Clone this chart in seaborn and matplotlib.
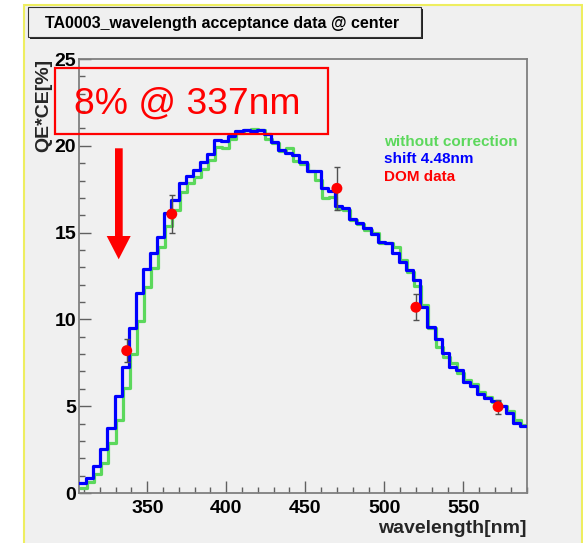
import numpy as np
import pandas as pd
import matplotlib
matplotlib.use("Agg")
import matplotlib.pyplot as plt
import seaborn as sns
from matplotlib.patches import Rectangle, Polygon
from matplotlib.ticker import MultipleLocator

# ---------------- data ----------------
wl_start = 306.8      # first bin edge [nm]
bin_width = 4.5       # bin width [nm]
green_offset = 0.6    # small drawing offset of the uncorrected histogram [nm]

without_correction = [
    0.27, 0.65, 1.08, 1.71, 2.86, 4.20, 6.03, 8.00, 9.93, 11.88,
    12.98, 14.15, 15.37, 16.30, 17.36, 17.84, 18.22, 18.65, 19.20, 19.95,
    19.90, 20.40, 20.75, 20.90, 20.97, 20.90, 20.40, 20.15, 19.70, 19.86,
    19.10, 18.95, 18.55, 18.03, 17.00, 17.07, 16.34, 16.30, 15.73, 15.50,
    15.15, 14.96, 14.42, 14.38, 14.19, 13.40, 12.75, 11.90, 10.83, 9.50,
    8.40, 7.85, 7.50, 6.93, 6.50, 6.30, 5.84, 5.55, 5.26, 5.02,
    4.72, 4.20, 3.92]

shift_448nm = [
    0.58, 0.85, 1.55, 2.52, 3.77, 5.60, 7.26, 9.52, 11.50, 12.89,
    13.80, 14.76, 16.15, 16.88, 17.86, 18.24, 18.60, 19.05, 19.50, 20.35,
    20.30, 20.58, 20.85, 20.89, 20.88, 20.90, 20.70, 20.20, 19.78, 19.60,
    19.45, 19.08, 18.55, 18.55, 17.59, 17.41, 16.53, 16.43, 15.78, 15.57,
    15.25, 14.90, 14.45, 14.38, 13.85, 13.32, 12.85, 12.27, 10.72, 9.58,
    8.88, 8.05, 7.28, 7.07, 6.40, 6.15, 5.70, 5.45, 5.32, 5.01,
    4.59, 4.01, 3.84]

dom_wavelength = [337, 365.5, 470, 520, 572]
dom_value = [8.2, 16.07, 17.55, 10.7, 4.97]
dom_error = [0.65, 1.1, 1.25, 0.74, 0.4]

x_ticks = [350, 400, 450, 500, 550]
y_ticks = [0, 5, 10, 15, 20, 25]

title_text = "TA0003_wavelength acceptance data @ center"
box_text = "8% @ 337nm"
legend_texts = ["without correction", "shift 4.48nm", "DOM data"]

GREEN = "#5cd85c"
BLUE = "#0000ff"
RED = "#ff0000"
BG = "#f0f0f0"

# ---------------- figure ----------------
W, H = 583, 543
sns.set_theme(style="ticks")
plt.rcParams["font.family"] = ["Liberation Sans", "DejaVu Sans"]

fig = plt.figure(figsize=(W / 100, H / 100), dpi=100, facecolor="white")


def fx(px):
    return px / W


def fy(py):
    return 1 - py / H


# ROOT-like canvas pad
fig.patches.append(Rectangle((fx(23.5), fy(560)), fx(582) - fx(23.5), fy(5) - fy(560),
                             transform=fig.transFigure, facecolor=BG,
                             edgecolor="#eeee60", linewidth=1.5, zorder=-2))

ax = fig.add_axes([fx(79), fy(493), fx(527) - fx(79), fy(59) - fy(493)])
ax.set_facecolor(BG)

n = len(shift_448nm)
edges_g = wl_start + green_offset + bin_width * np.arange(n + 1)
edges_b = wl_start + bin_width * np.arange(n + 1)
df_g = pd.DataFrame({"wl": edges_g, "val": list(without_correction) + [without_correction[-1]]})
df_b = pd.DataFrame({"wl": edges_b, "val": list(shift_448nm) + [shift_448nm[-1]]})

sns.lineplot(data=df_g, x="wl", y="val", estimator=None, drawstyle="steps-post",
             color=GREEN, linewidth=2.3, ax=ax, zorder=2)
sns.lineplot(data=df_b, x="wl", y="val", estimator=None, drawstyle="steps-post",
             color=BLUE, linewidth=2.3, ax=ax, zorder=3)

ax.errorbar(dom_wavelength, dom_value, yerr=dom_error, fmt="none",
            ecolor="#505050", elinewidth=1.0, capsize=2.5, capthick=1.0, zorder=4)
sns.scatterplot(x=dom_wavelength, y=dom_value, color=RED, s=62, edgecolor="none",
                ax=ax, zorder=5)

ax.set_xlim(wl_start, wl_start + bin_width * n)
ax.set_ylim(0, 25)
ax.set_xticks(x_ticks)
ax.set_yticks(y_ticks)
ax.set_xticklabels([str(v) for v in x_ticks], fontweight="bold", fontsize=14)
ax.set_yticklabels([str(v) for v in y_ticks], fontweight="bold", fontsize=14)
ax.xaxis.set_minor_locator(MultipleLocator(10))
ax.yaxis.set_minor_locator(MultipleLocator(1))
ax.tick_params(which="major", direction="in", length=8.6, width=1.0, color="#606060",
               top=False, right=False, labelcolor="black")
ax.tick_params(which="minor", direction="in", length=4.3, width=1.0, color="#606060",
               top=False, right=False)
ax.tick_params(axis="x", pad=5)
ax.tick_params(axis="y", pad=2)
for s in ax.spines.values():
    s.set_color("#808080")
    s.set_linewidth(1.3)

ax.set_xlabel("wavelength[nm]", fontsize=14, fontweight="bold", loc="right", labelpad=2)
ax.set_ylabel("QE*CE[%]", fontsize=14, fontweight="bold", loc="top", labelpad=1.5)

# title pave with shadow
fig.patches.append(Rectangle((fx(30), fy(39)), fx(423) - fx(30), fy(9.3) - fy(39),
                             transform=fig.transFigure, facecolor="#222222",
                             edgecolor="none", zorder=1))
fig.patches.append(Rectangle((fx(27.9), fy(36.7)), fx(421) - fx(27.9), fy(7.3) - fy(36.7),
                             transform=fig.transFigure, facecolor=BG,
                             edgecolor="#333333", linewidth=0.8, zorder=2))
fig.text(fx(45), fy(28.3), title_text, fontsize=11.5, fontweight="bold",
         ha="left", va="baseline", color="black", zorder=3)

# red annotation box
fig.patches.append(Rectangle((fx(54.6), fy(134.3)), fx(328) - fx(54.6), fy(68.3) - fy(134.3),
                             transform=fig.transFigure, facecolor="none",
                             edgecolor=RED, linewidth=1.6, zorder=5))
fig.text(fx(74), fy(113.3), box_text, fontsize=26.8, color=RED,
         ha="left", va="baseline", zorder=6)

# red arrow
arrow = [(115, 148.3), (122.7, 148.3), (122.7, 236), (130.7, 236), (118.7, 259.3),
         (106.7, 236), (115, 236)]
fig.patches.append(Polygon([(fx(px), fy(py)) for px, py in arrow], closed=True,
                           transform=fig.transFigure, facecolor=RED,
                           edgecolor="none", zorder=5))

# legend texts
for txt, col, yb in zip(legend_texts, [GREEN, BLUE, RED], [145.7, 163.3, 181.0]):
    fig.text(fx(384.3), fy(yb), txt, fontsize=11, fontweight="bold", color=col,
             ha="left", va="baseline", zorder=6)

fig.savefig("out.png", dpi=100, facecolor="white")
